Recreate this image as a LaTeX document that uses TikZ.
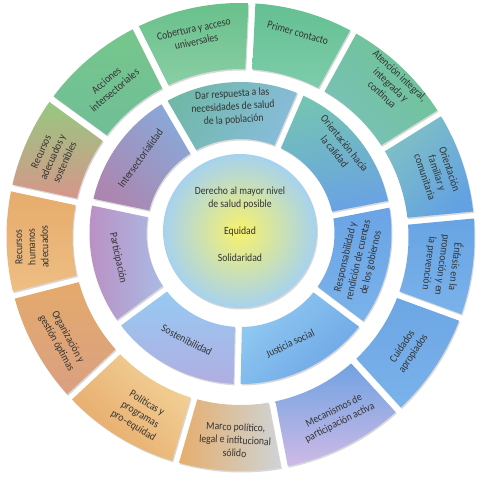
\documentclass[tikz,border=0pt]{standalone}
\usepackage{fontspec}
\setmainfont{Carlito}[FakeStretch=0.88]
\usetikzlibrary{shadows}

\definecolor{cobA}{RGB}{104,192,138}
\definecolor{cobB}{RGB}{138,206,165}
\definecolor{priA}{RGB}{100,192,146}
\definecolor{priB}{RGB}{125,204,170}
\definecolor{ateA}{RGB}{110,196,146}
\definecolor{ateB}{RGB}{122,192,186}
\definecolor{ofaA}{RGB}{128,192,196}
\definecolor{ofaB}{RGB}{98,162,226}
\definecolor{enfA}{RGB}{104,164,228}
\definecolor{enfB}{RGB}{122,178,234}
\definecolor{cuiA}{RGB}{108,166,228}
\definecolor{cuiB}{RGB}{122,178,234}
\definecolor{mecA}{RGB}{112,162,226}
\definecolor{mecB}{RGB}{206,186,230}
\definecolor{marA}{RGB}{230,174,108}
\definecolor{marB}{RGB}{206,212,214}
\definecolor{polA}{RGB}{242,210,152}
\definecolor{polB}{RGB}{230,168,104}
\definecolor{orgA}{RGB}{228,170,108}
\definecolor{orgB}{RGB}{218,160,130}
\definecolor{rhuA}{RGB}{230,172,108}
\definecolor{rhuB}{RGB}{238,190,132}
\definecolor{radA}{RGB}{150,200,128}
\definecolor{radB}{RGB}{214,150,138}
\definecolor{accA}{RGB}{118,198,140}
\definecolor{accB}{RGB}{112,190,150}
\definecolor{darA}{RGB}{112,184,168}
\definecolor{darB}{RGB}{136,188,218}
\definecolor{ocaA}{RGB}{116,196,178}
\definecolor{ocaB}{RGB}{106,162,228}
\definecolor{resA}{RGB}{106,164,230}
\definecolor{resB}{RGB}{122,178,234}
\definecolor{jusA}{RGB}{145,202,240}
\definecolor{jusB}{RGB}{108,165,230}
\definecolor{sosA}{RGB}{150,202,242}
\definecolor{sosB}{RGB}{176,174,226}
\definecolor{parA}{RGB}{188,142,194}
\definecolor{parB}{RGB}{170,186,228}
\definecolor{intA}{RGB}{172,134,176}
\definecolor{intB}{RGB}{138,168,216}
\definecolor{cenA}{RGB}{248,242,108}
\definecolor{cenB}{RGB}{166,210,238}

% start angle, end angle, inner radius, outer radius
\newcommand{\ringseg}[4]{({#1+asin(3.5/#4)}:#4) arc[start angle={#1+asin(3.5/#4)}, end angle={#2-asin(3.5/#4)}, radius=#4] -- ({#2-asin(3.5/#3)}:#3) arc[start angle={#2-asin(3.5/#3)}, end angle={#1+asin(3.5/#3)}, radius=#3] -- cycle}

\begin{document}
\begin{tikzpicture}[
    x=1pt, y=1pt,
    seg/.style = {drop shadow={opacity=0.3, shadow xshift=1pt, shadow yshift=-1.5pt}},
    segtext/.style = {align=center, inner sep=0pt, text=black!80, font=\fontsize{11}{13}\selectfont}
]
    \useasboundingbox (-240.5,-243) rectangle (240.5,237);

    \shade[seg, top color=cobA, bottom color=cobB, shading angle=0] \ringseg{87.2}{116.6}{168}{234};
    \shade[seg, top color=priA, bottom color=priB, shading angle=0] \ringseg{61.2}{87.2}{168}{234};
    \shade[seg, top color=ateA, bottom color=ateB, shading angle=-45] \ringseg{31.9}{61.2}{168}{234};
    \shade[seg, top color=ofaA, bottom color=ofaB, shading angle=45] \ringseg{5.4}{31.9}{168}{234};
    \shade[seg, top color=enfA, bottom color=enfB, shading angle=0] \ringseg{-20.1}{5.4}{168}{234};
    \shade[seg, top color=cuiA, bottom color=cuiB, shading angle=0] \ringseg{-47.6}{-20.1}{168}{234};
    \shade[seg, top color=mecA, bottom color=mecB, shading angle=0] \ringseg{-79.2}{-47.6}{168}{234};
    \shade[seg, top color=marA, bottom color=marB, shading angle=90] \ringseg{-106.1}{-79.2}{168}{234};
    \shade[seg, top color=polA, bottom color=polB, shading angle=-45] \ringseg{-136.9}{-106.1}{168}{234};
    \shade[seg, top color=orgA, bottom color=orgB, shading angle=0] \ringseg{-165.6}{-136.9}{168}{234};
    \shade[seg, top color=rhuA, bottom color=rhuB, shading angle=0] \ringseg{167.9}{194.4}{168}{234};
    \shade[seg, top color=radA, bottom color=radB, shading angle=0] \ringseg{143.9}{167.9}{168}{234};
    \shade[seg, top color=accA, bottom color=accB, shading angle=0] \ringseg{116.6}{143.9}{168}{234};

    \node[segtext, rotate=11.9] (cobertura) at (102.7:207) {Cobertura y acceso\\universales};
    \node[segtext, rotate=-15.8] (primer) at (74.3:212) {Primer contacto};
    \node[segtext, rotate=-43.4] (atencion) at (45.3:214) {Atención integral,\\integrada y\\continua};
    \node[segtext, rotate=-71.4] (orfamiliar) at (18:207) {Orientación\\familiar y\\comunitaria};
    \node[segtext, rotate=-97.4] (enfasis) at (-7.9:204) {Énfasis en la\\promoción y en\\la prevención};
    \node[segtext, rotate=56.2] (cuidados) at (-34:202) {Cuidados\\apropiados};
    \node[segtext, rotate=26.6] (mecanismos) at (-61.8:204) {Mecanismos de\\participación activa};
    \node[segtext, rotate=-2.7] (marco) at (-91.5:203) {Marco político,\\legal e intitucional\\sólido};
    \node[segtext, rotate=-31.5] (politicas) at (-119.5:204) {Políticas y\\programas\\pro–equidad};
    \node[segtext, rotate=-61.3] (organizacion) at (-150:206) {Organización y\\gestión óptimas};
    \node[segtext, rotate=91.2] (rhumanos) at (182.7:209) {Recursos\\humanos\\adecuados};
    \node[segtext, rotate=65.9] (radecuados) at (156.9:204) {Recursos\\adecuados y\\sostenibles};
    \node[segtext, rotate=40.3] (acciones) at (130.6:200) {Acciones\\intersectoriales};

    \begin{scope}[shift={(0,4)}]
        \shade[seg, top color=darA, bottom color=darB, shading angle=60] \ringseg{66.7}{120.2}{94}{151};
        \shade[seg, top color=ocaA, bottom color=ocaB, shading angle=10] \ringseg{11.0}{66.7}{94}{151};
        \shade[seg, top color=resA, bottom color=resB, shading angle=0] \ringseg{-37.0}{11.0}{94}{151};
        \shade[seg, top color=jusA, bottom color=jusB, shading angle=45] \ringseg{-91.3}{-37.0}{94}{151};
        \shade[seg, top color=sosA, bottom color=sosB, shading angle=0] \ringseg{-143.6}{-91.3}{94}{151};
        \shade[seg, top color=parA, bottom color=parB, shading angle=90] \ringseg{168.2}{216.4}{94}{151};
        \shade[seg, top color=intA, bottom color=intB, shading angle=135] \ringseg{120.2}{168.2}{94}{151};

        \node[segtext, rotate=3.5] (respuesta) at (93.4:126) {Dar respuesta a las\\necesidades de salud\\de la población};
        \node[segtext, rotate=-51.2] (calidad) at (40.8:131) {Orientación hacia\\la calidad};
        \node[segtext, rotate=77] (gobiernos) at (-12.9:121) {Responsabilidad y\\rendición de cuentas\\de los gobiernos};
        \node[segtext, rotate=25.9] (justicia) at (-65.8:121) {Justicia social};
        \node[segtext, rotate=-27.5] (sostenibilidad) at (-116.6:120) {Sostenibilidad};
        \node[segtext, rotate=-77.7] (participacion) at (191.5:125) {Participación};
        \node[segtext, rotate=54.2] (intersectorialidad) at (143.3:125) {Intersectorialidad};
    \end{scope}

    \shade[seg, inner color=cenA, outer color=cenB] (-0.5,6) circle[radius=77];
    \node[segtext] (centro) at (-0.5,13) {Derecho al mayor nivel\\de salud posible\\[14pt]Equidad\\[14pt]Solidaridad};
\end{tikzpicture}
\end{document}
